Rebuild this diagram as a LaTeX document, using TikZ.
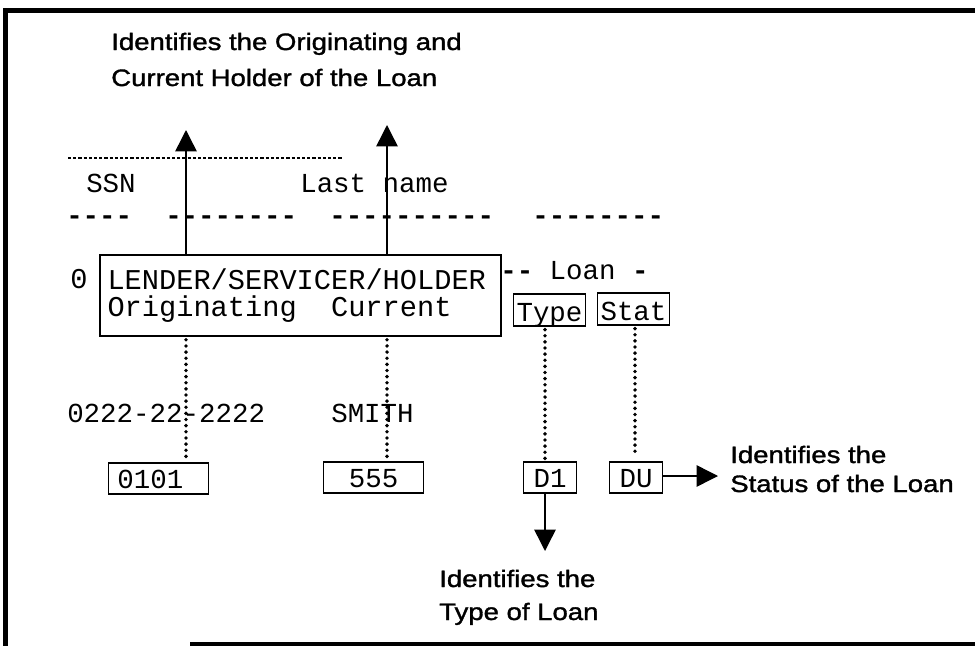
\documentclass[tikz,border=0pt]{standalone}
\usepackage{fontspec}
\setmainfont{Liberation Sans}[FakeStretch=1.16, FakeBold=1.4]
\setmonofont{Liberation Mono}
\usetikzlibrary{arrows.meta}
\tikzset{
  lbl/.style={font=\fontsize{17.8}{21.75}\selectfont, align=left, inner sep=0pt, anchor=base west},
  mono/.style={font=\ttfamily\fontsize{20.6}{25}\selectfont, inner sep=0pt, anchor=base west},
  dashmono/.style={font=\ttfamily\bfseries\fontsize{20.6}{25}\selectfont, inner sep=0pt, anchor=base west},
  bigmono/.style={font=\ttfamily\fontsize{21.5}{19.8}\selectfont},
  valbox/.style={mono, draw, line width=0.9pt, text height=18.75pt, text depth=4.5pt, align=center},
  hdrbox/.style={mono, draw, line width=0.9pt, inner xsep=2.2pt, text height=20.25pt, text depth=3.75pt},
  dotline/.style={line width=2.9pt, line cap=round, dash pattern=on 0pt off 4.6pt},
  arr/.style={line width=1.1pt, -{Triangle[length=16pt,width=16pt]}},
  frame/.style={line width=3.75pt}
}
\begin{document}
\begin{tikzpicture}[x=0.75pt, y=-0.75pt]
\useasboundingbox (0,0) rectangle (975,646);
% frame
\draw[frame, line join=miter] (5.5,646) -- (5.5,10) -- (975,10);
\draw[line width=2.4pt] (190,644) -- (975,644);

% title label (anchor is the baseline of its last line)
\node[lbl] (title) at (111,86) {Identifies the Originating and\\[5.25pt]Current Holder of the Loan};

% fine dashed line
\coordinate (fl1) at (68,158);
\coordinate (fl2) at (343,158);
\draw[line width=0.9pt, dash pattern=on 2.4pt off 1.5pt] (fl1) -- (fl2);

% header texts
\node[mono] (ssn) at (86,192) {SSN};
\node[mono] (lname) at (300,192) {Last name};
\node[dashmono] (dsh1) at (66,224) {----};
\node[dashmono] (dsh2) at (165,224) {--------};
\node[dashmono] (dsh3) at (329,224) {----------};
\node[dashmono] (dsh4) at (532,224) {--------};

% main box
\node[mono, bigmono] (zero) at (70,288) {0};
\node[draw, line width=1.2pt, bigmono, align=left, inner ysep=0pt, inner xsep=5.6pt,
      text width=289.5pt, minimum height=60.75pt] (lsh) at (300.5,295.5)
      {LENDER/SERVICER/HOLDER\\Originating\hspace{1.2em}Current};
\node[dashmono] (loan) at (500,279) {--\mdseries{} Loan \bfseries-};
\node[hdrbox] (tp) at (513,321) {Type};
\node[hdrbox] (st) at (597,320) {Stat};

% record values
\node[mono] (ssnv) at (67,422) {0222-22-2222};
\node[mono] (smith) at (331,422) {SMITH};
\node[valbox, minimum width=75pt] (v1) at (108,488) {0101\phantom{0}};
\node[valbox, minimum width=75pt] (v2) at (323,487) {555};
\node[valbox, minimum width=39.75pt] (d1) at (523,487) {D1};
\node[valbox, minimum width=39.75pt] (du) at (609,487) {DU};

% column x positions
\coordinate (c1) at (186,0);
\coordinate (c2) at (387,0);
\coordinate (c3) at (545,0);
\coordinate (c4) at (635,0);

% dotted links
\draw[dotline] (lsh.south -| c1) ++(0,3) -- (c1 |- v1.north);
\draw[dotline] (lsh.south -| c2) ++(0,3) -- (387,457);
\draw[dotline] (tp.south -| c3) ++(0,3) -- (c3 |- d1.north);
\draw[dotline] (st.south -| c4) ++(0,3) -- (635,457);

% arrows to labels
\coordinate (t1) at (186,130);
\coordinate (t2) at (387,125);
\draw[arr] (lsh.north -| t1) -- (t1);
\draw[arr] (lsh.north -| t2) -- (t2);
\coordinate (tstat) at (718,476);
\draw[arr] (du.east |- tstat) -- (tstat);
\coordinate (ttype) at (545,551);
\draw[arr] (d1.south -| ttype) -- (ttype);

% side labels
\node[lbl] (statlbl) at (730,492) {Identifies the\\Status of the Loan};
\node[lbl] (typelbl) at (439,620) {Identifies the\\[3pt]Type of Loan};
\end{tikzpicture}
\end{document}
